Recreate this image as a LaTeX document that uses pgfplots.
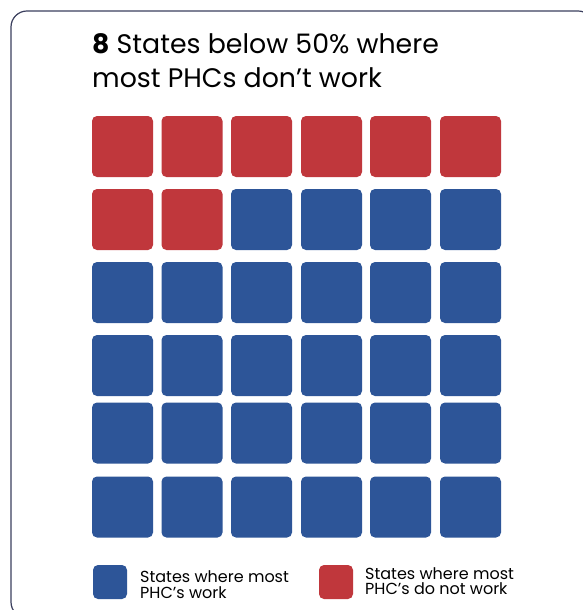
\documentclass[border=0pt]{standalone}
\usepackage{pgfplots}
\pgfplotsset{compat=1.18}
\usepackage{fontspec}
\setmainfont{Poppins}
\definecolor{phcred}{HTML}{C0373C}
\definecolor{phcblue}{HTML}{2D5598}
\definecolor{frame}{HTML}{3B3F5E}
\pgfdeclareplotmark{rsq}{%
  \pgfsetcornersarced{\pgfpoint{5pt}{5pt}}%
  \pgfpathmoveto{\pgfqpoint{0pt}{-\pgfplotmarksize}}%
  \pgfpathlineto{\pgfqpoint{\pgfplotmarksize}{-\pgfplotmarksize}}%
  \pgfpathlineto{\pgfqpoint{\pgfplotmarksize}{\pgfplotmarksize}}%
  \pgfpathlineto{\pgfqpoint{-\pgfplotmarksize}{\pgfplotmarksize}}%
  \pgfpathlineto{\pgfqpoint{-\pgfplotmarksize}{-\pgfplotmarksize}}%
  \pgfpathclose
  \pgfusepath{fill}}
\begin{document}
\begin{tikzpicture}
\useasboundingbox (0pt,0pt) rectangle (583pt,610pt);
\clip (0pt,0pt) rectangle (583pt,610pt);
\fill[white] (0pt,0pt) rectangle (583pt,610pt);
\draw[frame, line width=1.2pt, rounded corners=16pt] (11pt,599pt) rectangle (594pt,-8pt);
\begin{axis}[
  at={(0pt,0pt)}, anchor=south west,
  width=583pt, height=610pt, scale only axis,
  xmin=0, xmax=583, ymin=0, ymax=610, y dir=reverse,
  hide axis, clip=false,
]
% red tiles: states where most PHCs do not work (8)
\addplot[only marks, mark=rsq, mark size=30.5pt, color=phcred, fill=phcred] table {
x y
122.5 146.5
192 146.5
261.5 146.5
331.5 146.5
400.5 146.5
470.5 146.5
122.5 219.5
192 219.5
};
% blue tiles: states where most PHCs work (28)
\addplot[only marks, mark=rsq, mark size=30.5pt, color=phcblue, fill=phcblue] table {
x y
261.5 219.5
331.5 219.5
400.5 219.5
470.5 219.5
122.5 292.5
192 292.5
261.5 292.5
331.5 292.5
400.5 292.5
470.5 292.5
122.5 365.5
192 365.5
261.5 365.5
331.5 365.5
400.5 365.5
470.5 365.5
122.5 433
192 433
261.5 433
331.5 433
400.5 433
470.5 433
122.5 507
192 507
261.5 507
331.5 507
400.5 507
470.5 507
};
% legend swatches
\addplot[only marks, mark=rsq, mark size=17pt, color=phcblue, fill=phcblue] coordinates {(110,582)};
\addplot[only marks, mark=rsq, mark size=17pt, color=phcred, fill=phcred] coordinates {(336,582)};
\node[anchor=base west, align=left, inner sep=0pt, font=\fontsize{26.8}{33}\selectfont] at (axis cs:92,87) {{\bfseries 8} States below 50\% where\\most PHCs don’t work};
\node[anchor=base west, align=left, inner sep=0pt, font=\fontsize{16}{16}\selectfont] at (axis cs:140,598) {States where most\\PHC’s work};
\node[anchor=base west, align=left, inner sep=0pt, font=\fontsize{16}{15}\selectfont] at (axis cs:365,594) {States where most\\PHC’s do not work};
\end{axis}
\end{tikzpicture}
\end{document}
